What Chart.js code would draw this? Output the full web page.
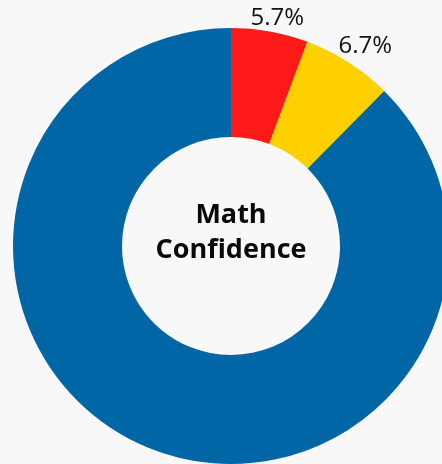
<!DOCTYPE html>
<html>
<head>
<meta charset="utf-8">
<script src="https://cdn.jsdelivr.net/npm/chart.js@4"></script>
<style>
  html, body { margin: 0; padding: 0; background: #f8f8f8; overflow: hidden; width: 442px; height: 464px; }
  #wrap { position: absolute; left: 0; top: 0; width: 462px; height: 492px; }
</style>
</head>
<body>
<div id="wrap"><canvas id="c" width="462" height="492"></canvas></div>
<script>
const categories = ["Not confident", "Somewhat confident", "Confident"];
const values = [5.7, 6.7, 87.6];
const labels = ["5.7%", "6.7%", ""];
const colors = ["#ff1a1a", "#ffd000", "#0066a6"];
const centerLines = ["Math", "Confidence"];

const outerLabels = {
  id: "outerLabels",
  afterDatasetsDraw(chart) {
    const ctx = chart.ctx;
    const meta = chart.getDatasetMeta(0);
    ctx.save();
    ctx.font = "24px 'Open Sans'";
    ctx.fillStyle = "#111";
    ctx.textAlign = "center";
    ctx.textBaseline = "middle";
    meta.data.forEach((arc, i) => {
      const txt = labels[i];
      if (!txt) return;
      const p = arc.getProps(["x", "y", "startAngle", "endAngle", "outerRadius"], true);
      const mid = (p.startAngle + p.endAngle) / 2 + Math.PI / 180 * 1.2;
      const w = ctx.measureText(txt).width / 2;
      const h = 9;
      const ext = w * Math.abs(Math.cos(mid)) + h * Math.abs(Math.sin(mid));
      const r = p.outerRadius + 1 + ext;
      ctx.fillText(txt, p.x + r * Math.cos(mid), p.y + r * Math.sin(mid) + 1);
    });
    // center text
    const a = meta.data[0];
    ctx.font = "bold 27px 'Open Sans'";
    ctx.fillStyle = "#0a0a0a";
    ctx.fillText(centerLines[0], a.x, a.y - 31);
    ctx.fillText(centerLines[1], a.x, a.y + 4);
    ctx.restore();
  }
};

new Chart(document.getElementById("c"), {
  type: "doughnut",
  data: {
    labels: categories,
    datasets: [{
      data: values,
      backgroundColor: colors,
      borderWidth: 0,
      hoverOffset: 0
    }]
  },
  options: {
    responsive: false,
    animation: false,
    cutout: "50%",
    layout: { padding: 13 },
    plugins: {
      legend: { display: false },
      tooltip: { enabled: false }
    },
    events: []
  },
  plugins: [outerLabels]
});
</script>
</body>
</html>
